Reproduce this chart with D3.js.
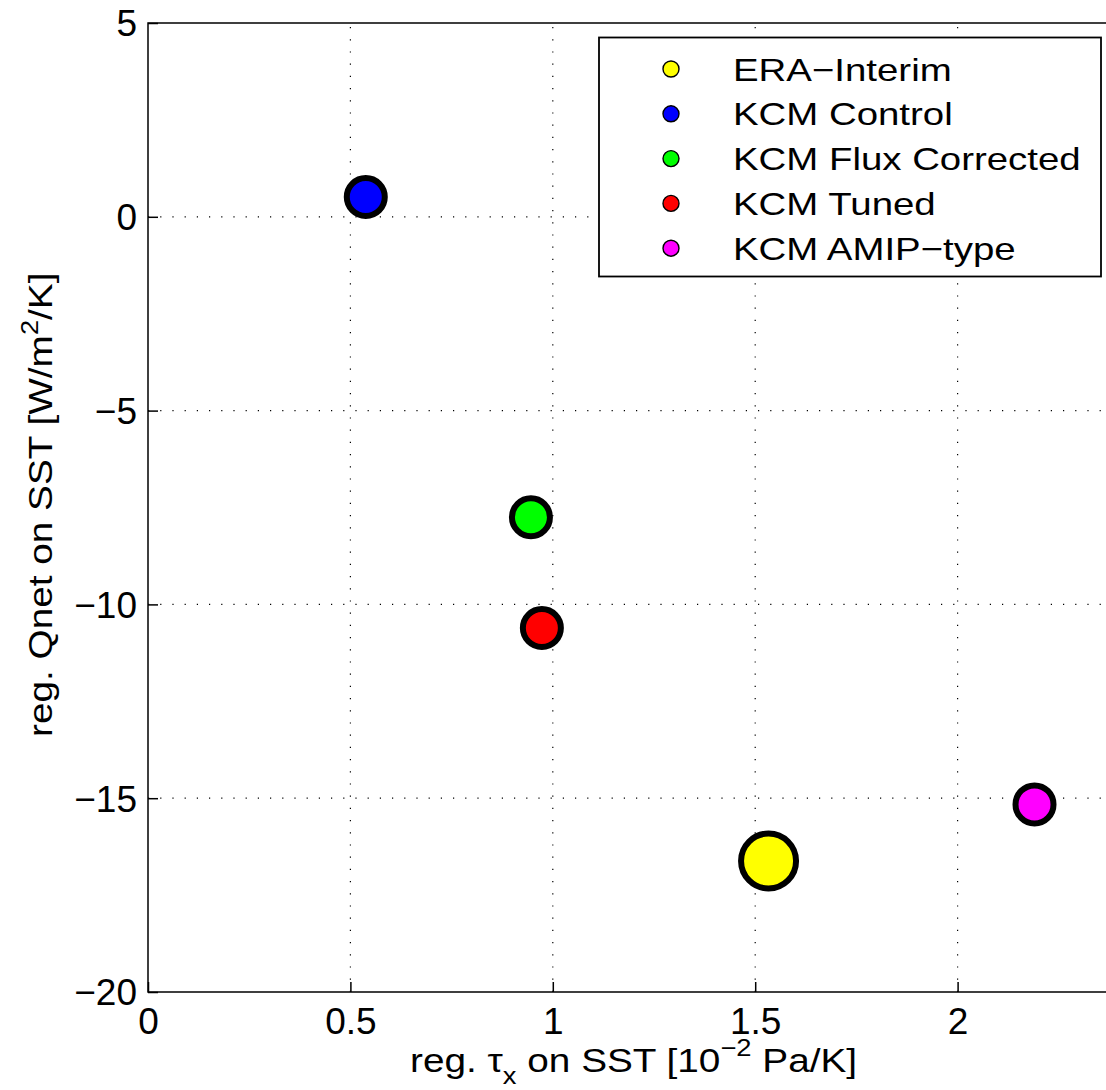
<!DOCTYPE html>
<html>
<head>
<meta charset="utf-8">
<script src="https://cdn.jsdelivr.net/npm/d3@7"></script>
<style>
  body { margin: 0; background: #fff; }
  text { font-family: "Liberation Sans", Arial, sans-serif; }
</style>
</head>
<body>
<div id="mainContainer"></div>
<script>
var names = ["ERA\u2212Interim", "KCM Control", "KCM Flux Corrected", "KCM Tuned", "KCM AMIP\u2212type"];
var colors = ["#ffff00", "#0000ff", "#00ff00", "#ff0000", "#ff00ff"];
var tauX = [1.533, 0.538, 0.946, 0.973, 2.190];
var qnet = [-16.62, 0.51, -7.75, -10.61, -15.16];
var bigMarker = [true, false, false, false, false];
var xTicks = [0, 0.5, 1, 1.5, 2];
var yTicks = [5, 0, -5, -10, -15, -20];

var W = 1106, H = 1090;
var mLeft = 148, mTop = 23, mBottom = 992, mRight = 1160;
var stretch = 1.14;

var svg = d3.select('#mainContainer').append('svg')
    .attr('width', W)
    .attr('height', H);

var xscale = d3.scaleLinear().domain([0, 2.5]).range([mLeft, mRight]);
var yscale = d3.scaleLinear().domain([-20, 5]).range([mBottom, mTop]);

// dotted grid
var grid = svg.append('g')
    .attr('stroke', '#000')
    .attr('stroke-width', 1.2)
    .attr('stroke-dasharray', '1.2,11');
grid.selectAll('line.gx')
    .data(xTicks.filter(function (d) { return d > 0; }))
    .enter().append('line')
    .attr('x1', function (d) { return xscale(d); })
    .attr('x2', function (d) { return xscale(d); })
    .attr('y1', mBottom).attr('y2', mTop);
grid.selectAll('line.gy')
    .data(yTicks.filter(function (d) { return d > -20 && d < 5; }))
    .enter().append('line')
    .attr('y1', function (d) { return yscale(d); })
    .attr('y2', function (d) { return yscale(d); })
    .attr('x1', mLeft).attr('x2', mRight);

// axes, ticks inside
var xAxis = svg.append('g')
    .attr('transform', 'translate(0,' + mBottom + ')')
    .call(d3.axisBottom(xscale).tickValues(xTicks).tickSize(-10).tickPadding(16)
        .tickFormat(d3.format('')));
var yAxis = svg.append('g')
    .attr('transform', 'translate(' + mLeft + ',0)')
    .call(d3.axisLeft(yscale).tickValues(yTicks).tickSize(-10).tickPadding(11)
        .tickFormat(function (d) { return d < 0 ? '\u2212' + Math.abs(d) : d; }));

[xAxis, yAxis].forEach(function (a) {
    a.select('.domain').remove();
    a.selectAll('line').attr('stroke', '#000').attr('stroke-width', 1.5);
    a.selectAll('text')
        .attr('fill', '#000')
        .style('font-size', '37px')
        .style('font-family', '"Liberation Sans", Arial, sans-serif');
});
xAxis.selectAll('text').attr('dy', '0.71em');
yAxis.selectAll('text').attr('dy', '0.35em');

// frame (left, bottom, top)
svg.append('path')
    .attr('d', 'M' + mRight + ',' + mTop + 'H' + mLeft + 'V' + mBottom + 'H' + mRight)
    .attr('fill', 'none')
    .attr('stroke', '#000')
    .attr('stroke-width', 1.5);

// points
svg.append('g')
    .selectAll('circle')
    .data(names.map(function (n, i) { return i; }))
    .enter()
    .append('circle')
    .attr('cx', function (i) { return xscale(tauX[i]); })
    .attr('cy', function (i) { return yscale(qnet[i]); })
    .attr('r', function (i) { return bigMarker[i] ? 27.5 : 19; })
    .attr('fill', function (i) { return colors[i]; })
    .attr('stroke', '#000')
    .attr('stroke-width', 6);

// legend
var lg = svg.append('g');
lg.append('rect')
    .attr('x', 599).attr('y', 37.5)
    .attr('width', 502).attr('height', 239)
    .attr('fill', '#fff')
    .attr('stroke', '#000')
    .attr('stroke-width', 1.8);
var rows = lg.selectAll('g.row')
    .data(names)
    .enter().append('g')
    .attr('transform', function (d, i) { return 'translate(0,' + (69 + i * 44.8) + ')'; });
rows.append('circle')
    .attr('cx', 671).attr('cy', 0).attr('r', 8)
    .attr('fill', function (d, i) { return colors[i]; })
    .attr('stroke', '#000').attr('stroke-width', 1.4);
rows.append('text')
    .attr('transform', 'translate(733,0) scale(1.2,1)')
    .attr('dy', '0.36em')
    .style('font-size', '32px')
    .text(function (d) { return d; });

// axis titles
var xt = svg.append('text')
    .attr('transform', 'translate(410,1072) scale(' + stretch + ',1)')
    .style('font-size', '34px');
xt.append('tspan').text('reg. ');
xt.append('tspan').text('\u03c4');
xt.append('tspan').attr('dy', 12).style('font-size', '24px').text('x');
xt.append('tspan').attr('dy', -12).text(' on SST [10');
xt.append('tspan').attr('dy', -16).style('font-size', '24px').text('\u22122');
xt.append('tspan').attr('dy', 16).text(' Pa/K]');

var yt = svg.append('text')
    .attr('transform', 'translate(52,737) rotate(-90) scale(' + stretch + ',1)')
    .style('font-size', '34px');
yt.append('tspan').text('reg. Qnet on SST [W/m');
yt.append('tspan').attr('dy', -14).style('font-size', '24px').text('2');
yt.append('tspan').attr('dy', 14).text('/K]');
</script>
</body>
</html>
